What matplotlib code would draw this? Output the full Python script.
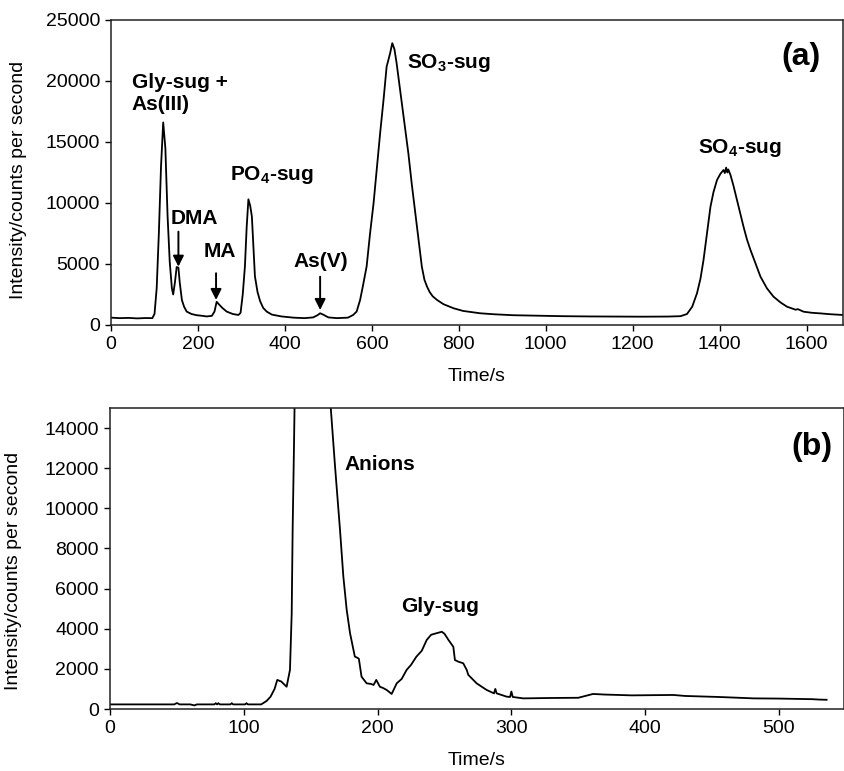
import numpy as np
import matplotlib
matplotlib.use('Agg')
import matplotlib.pyplot as plt

# chromatogram traces, (a) top = full run, (b) bottom = anion window
top_time = [0, 20, 40, 60, 80, 95, 100, 105, 110, 115, 120, 125, 130, 135, 140, 143, 147, 151, 155, 158,
            163, 168, 174, 185, 197, 210, 220, 232, 238, 243, 248, 256, 266, 280, 293, 298, 303, 308, 312,
            316, 320, 324, 328, 331, 337, 343, 350, 358, 370, 392, 420, 445, 465, 475, 481, 488, 500, 520,
            545, 557, 565, 573, 580, 588, 596, 604, 612, 619, 627, 634, 642, 647, 652, 657, 663, 669, 676,
            684, 692, 700, 708, 715, 721, 727, 733, 740, 750, 765, 788, 810, 849, 880, 925, 980, 1040, 1100,
            1160, 1220, 1280, 1310, 1325, 1337, 1348, 1356, 1363, 1371, 1379, 1386, 1394, 1402, 1409, 1412,
            1415, 1418, 1420, 1425, 1432, 1440, 1448, 1455, 1463, 1471, 1483, 1494, 1509, 1524, 1540, 1555,
            1575, 1580, 1593, 1612, 1632, 1655, 1684]
top_counts = [600, 560, 580, 540, 570, 560, 900, 3000, 7500, 13000, 16600, 14500, 9000, 5200, 3000, 2500,
              3500, 4750, 4700, 3500, 2050, 1500, 1100, 900, 800, 750, 700, 750, 1100, 1900, 1700, 1400,
              1100, 900, 820, 1000, 2500, 4800, 8000, 10300, 9800, 8900, 6000, 4000, 2700, 1950, 1400, 1100,
              850, 700, 600, 560, 620, 800, 960, 850, 620, 560, 600, 820, 1100, 2050, 3300, 4800, 7540,
              10000, 13000, 15700, 18500, 21170, 22270, 23100, 22600, 21450, 19800, 18170, 16200, 14070,
              11500, 9150, 6800, 4780, 3700, 3140, 2700, 2350, 2050, 1700, 1370, 1150, 960, 880, 800, 760,
              720, 700, 690, 680, 690, 720, 900, 1500, 2600, 3800, 5330, 7500, 9700, 10900, 11880, 12400,
              12700, 12450, 12900, 12500, 12750, 12300, 11400, 10250, 9100, 8060, 7000, 6150, 5000, 3960,
              3000, 2320, 1850, 1500, 1250, 1300, 1090, 1000, 950, 880, 820]

bot_time = [0, 48, 50, 52, 60, 63, 65, 78, 79, 80, 81, 82, 90, 91, 92, 101, 102, 103, 113, 117, 120, 123,
            125, 128, 132, 134.5, 135.8, 136.5, 137.5, 139, 150, 163, 165, 168.2, 171.9, 174.4, 176.9,
            179.4, 183, 185, 186, 188, 191.8, 195, 197, 199, 201.7, 204, 206.8, 210.5, 214.3, 218, 221.7,
            225, 229, 233, 236.7, 240, 244.2, 248, 250, 253, 256.6, 257.8, 260.3, 264, 266.6, 267.8, 271.5,
            274, 281.5, 287, 288, 289, 296.5, 299, 300, 301, 308.9, 330, 350, 361, 370, 390, 421, 430, 455,
            470, 481, 500, 525, 530, 535.6]
bot_counts = [230, 230, 300, 230, 230, 180, 230, 230, 290, 230, 290, 230, 230, 290, 230, 230, 290, 230,
              230, 400, 615, 1000, 1450, 1370, 1110, 1950, 4780, 8930, 13080, 20000, 50000, 18000, 15000,
              12080, 8930, 6600, 4940, 3780, 2610, 2550, 2500, 1610, 1280, 1250, 1200, 1450, 1110, 1050,
              950, 750, 1280, 1500, 1950, 2200, 2610, 2900, 3440, 3700, 3780, 3850, 3750, 3440, 3100, 2440,
              2360, 2280, 1950, 1700, 1450, 1280, 950, 780, 1000, 780, 615, 600, 870, 600, 530, 550, 560,
              750, 720, 680, 700, 650, 600, 560, 530, 520, 490, 470, 460]

top_yticks = [0, 5000, 10000, 15000, 20000, 25000]
top_xticks = [0, 200, 400, 600, 800, 1000, 1200, 1400, 1600]
bot_yticks = [0, 2000, 4000, 6000, 8000, 10000, 12000, 14000]
bot_xticks = [0, 100, 200, 300, 400, 500]

plt.rcParams['font.family'] = ['Liberation Sans', 'DejaVu Sans']
plt.rcParams['mathtext.fontset'] = 'custom'
plt.rcParams['mathtext.rm'] = 'Liberation Sans'
plt.rcParams['mathtext.bf'] = 'Liberation Sans:bold'

fig = plt.figure(figsize=(8.45, 7.71), dpi=100)
ax1 = fig.add_axes([0.1314, 0.5785, 0.8663, 0.3956])
ax2 = fig.add_axes([0.1302, 0.0804, 0.8686, 0.3904])

label_kw = dict(fontsize=15, fontweight='bold', ha='left', va='center')
arrow_kw = dict(arrowstyle='-|>', color='black', lw=1.4, mutation_scale=16, shrinkA=0, shrinkB=0)

# --- panel (a) ---
ax1.plot(top_time, top_counts, color='black', lw=1.3)
ax1.set_xlim(0, 1684)
ax1.set_ylim(0, 25000)
ax1.set_xticks(top_xticks)
ax1.set_yticks(top_yticks)
ax1.set_xlabel('Time/s', fontsize=14, labelpad=11)
ax1.set_ylabel('Intensity/counts per second', fontsize=14)
ax1.yaxis.set_label_coords(-0.115, 0.475)

ax1.text(48, 18970, 'Gly-sug +\nAs(III)', linespacing=1.15, **label_kw)
ax1.text(136, 8750, 'DMA', **label_kw)
ax1.text(212, 6010, 'MA', **label_kw)
ax1.text(274, 12300, r'PO$_\mathbf{4}$-sug', **label_kw)
ax1.text(419, 5190, 'As(V)', **label_kw)
ax1.text(680, 21450, r'SO$_\mathbf{3}$-sug', **label_kw)
ax1.text(1351, 14480, r'SO$_\mathbf{4}$-sug', **label_kw)
ax1.text(0.969, 0.88, '(a)', transform=ax1.transAxes, fontsize=23, fontweight='bold',
         ha='right', va='center')

# arrows pointing at the small peaks
ax1.annotate('', xy=(155, 4780), xytext=(155, 7650), arrowprops=arrow_kw)
ax1.annotate('', xy=(241.6, 2050), xytext=(241.6, 4240), arrowprops=arrow_kw)
ax1.annotate('', xy=(481, 1230), xytext=(481, 3960), arrowprops=arrow_kw)

# --- panel (b) ---
ax2.plot(bot_time, bot_counts, color='black', lw=1.3)
ax2.set_xlim(0, 548.6)
ax2.set_ylim(0, 15000)
ax2.set_xticks(bot_xticks)
ax2.set_yticks(bot_yticks)
ax2.set_xlabel('Time/s', fontsize=14, labelpad=11)
ax2.set_ylabel('Intensity/counts per second', fontsize=14)
ax2.yaxis.set_label_coords(-0.12, 0.46)

ax2.text(175.6, 12170, 'Anions', **label_kw)
ax2.text(217.3, 5100, 'Gly-sug', **label_kw)
ax2.text(0.985, 0.871, '(b)', transform=ax2.transAxes, fontsize=23, fontweight='bold',
         ha='right', va='center')

for ax in (ax1, ax2):
    for s in ax.spines.values():
        s.set_linewidth(1.1)
        s.set_color('#222222')
    ax.tick_params(direction='out', length=4.5, width=1.0, pad=3.5, labelsize=14,
                   top=False, right=False)

fig.savefig('out.png', dpi=100)
